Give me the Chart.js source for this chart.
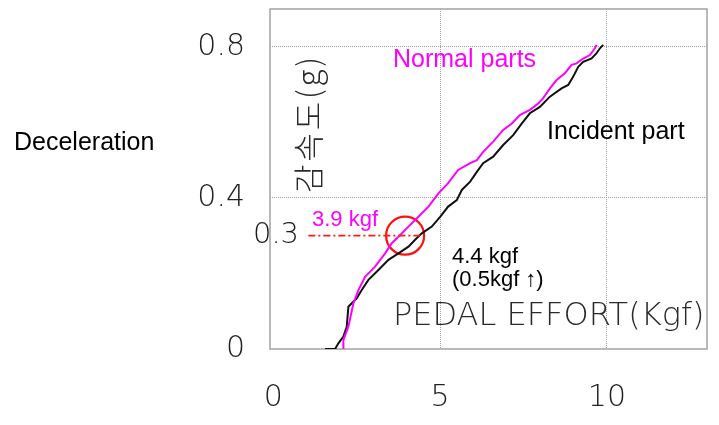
<!DOCTYPE html>
<html>
<head>
<meta charset="utf-8">
<script src="https://cdn.jsdelivr.net/npm/chart.js@4/dist/chart.umd.min.js"></script>
<style>
  html, body { margin: 0; padding: 0; background: #fff; }
  #wrap { width: 719px; height: 425px; }
</style>
</head>
<body>
<div id="wrap"><canvas id="c" width="719" height="425"></canvas></div>
<script>
// Axis ticks
const xTicks = [0, 5, 10];
const yTicks = [0, 0.4, 0.8];

// Pedal effort (kgf) vs deceleration (g) — normal parts
const normalX = [2.10, 2.10, 2.25, 2.40, 2.55, 2.75, 3.05, 3.35, 3.55, 3.75, 4.05, 4.35, 4.65, 4.95, 5.24, 5.54, 5.90, 6.10, 6.29, 6.59, 6.89, 7.15, 7.39, 7.69, 7.94, 8.09, 8.29, 8.49, 8.74, 8.94, 9.09, 9.29, 9.49, 9.64, 9.69];
const normalY = [0.0, 0.024, 0.059, 0.121, 0.156, 0.191, 0.218, 0.253, 0.280, 0.297, 0.324, 0.350, 0.377, 0.412, 0.439, 0.474, 0.492, 0.500, 0.522, 0.549, 0.580, 0.597, 0.619, 0.633, 0.650, 0.664, 0.690, 0.712, 0.730, 0.752, 0.756, 0.769, 0.778, 0.796, 0.805];

// Pedal effort (kgf) vs deceleration (g) — incident part
const incidentX = [1.55, 1.85, 1.95, 2.10, 2.20, 2.25, 2.35, 2.50, 2.65, 2.85, 3.15, 3.45, 3.75, 4.05, 4.25, 4.45, 4.75, 5.00, 5.24, 5.50, 5.65, 5.90, 6.10, 6.29, 6.59, 6.89, 7.19, 7.45, 7.69, 7.99, 8.29, 8.64, 8.84, 8.99, 9.14, 9.29, 9.54, 9.69, 9.79, 9.89];
const incidentY = [0.0, 0.0, 0.015, 0.033, 0.059, 0.112, 0.121, 0.134, 0.156, 0.183, 0.209, 0.236, 0.253, 0.271, 0.289, 0.306, 0.324, 0.350, 0.377, 0.394, 0.421, 0.443, 0.469, 0.492, 0.509, 0.540, 0.566, 0.597, 0.624, 0.641, 0.668, 0.690, 0.699, 0.721, 0.747, 0.760, 0.769, 0.783, 0.796, 0.805];

// Reference deceleration and the pedal efforts reached there
const refLevel = 0.3;
const normalAt = 3.9;
const incidentAt = 4.4;
const guideStart = 1.05;
const markerAt = 3.95;

const toPoints = (xs, ys) => xs.map((x, i) => ({ x, y: ys[i] }));

const fmt = v => (v === 0 ? '0' : String(v));

// Frame round the plotting area
const framePlugin = {
  id: 'frame',
  beforeDatasetsDraw(chart) {
    const { ctx, chartArea: a } = chart;
    ctx.save();
    ctx.strokeStyle = '#a3a3a3';
    ctx.lineWidth = 1.5;
    ctx.strokeRect(a.left, a.top, a.right - a.left, a.bottom - a.top);
    ctx.restore();
  }
};

// Titles and notes
const notesPlugin = {
  id: 'notes',
  afterDraw(chart) {
    const { ctx } = chart;
    const ys = chart.scales.y;
    const yRef = ys.getPixelForValue(refLevel);
    ctx.save();
    ctx.textBaseline = 'middle';

    ctx.fillStyle = '#000';
    ctx.font = '25px "Liberation Sans", Arial, sans-serif';
    ctx.textAlign = 'left';
    ctx.fillText('Deceleration', 14, 143);
    ctx.fillText('Incident part', 547, 132);

    ctx.fillStyle = '#ff00ff';
    ctx.fillText('Normal parts', 393, 60);

    ctx.font = '22px "Liberation Sans", Arial, sans-serif';
    ctx.fillText(normalAt + ' kgf', 312, yRef - 16);

    ctx.fillStyle = '#000';
    ctx.fillText(incidentAt + ' kgf', 452, 257);
    ctx.fillText('(0.5kgf \u2191)', 452, 280);

    ctx.fillStyle = '#1a1a1a';
    ctx.font = '200 29px "DejaVu Sans", sans-serif';
    ctx.textAlign = 'center';
    ctx.fillText(String(refLevel), 276, yRef);

    ctx.fillStyle = '#2a2a2a';
    ctx.font = '200 32px "DejaVu Sans", sans-serif';
    ctx.textAlign = 'left';
    ctx.fillText('PEDAL EFFORT(Kgf)', 393, 317);

    // vertical axis caption, spread to its full length
    const cap = '감속도(g)';
    ctx.font = '300 31px "Noto Sans CJK KR", sans-serif';
    const w = ctx.measureText(cap).width;
    const n = [...cap].length;
    ctx.letterSpacing = Math.max(0, (136 - w) / (n - 1)) + 'px';
    ctx.translate(308, 193);
    ctx.rotate(-Math.PI / 2);
    ctx.textAlign = 'left';
    ctx.fillText(cap, 0, 0);
    ctx.restore();
  }
};

const tickFont = { family: '"DejaVu Sans", sans-serif', size: 30, weight: '200' };

const noPad = s => { s.paddingTop = 0; s.paddingBottom = 0; s.paddingLeft = 0; s.paddingRight = 0; };

new Chart(document.getElementById('c'), {
  type: 'line',
  data: {
    datasets: [
      {
        data: [{ x: guideStart, y: refLevel }, { x: incidentAt, y: refLevel }],
        borderColor: '#ff1a1a',
        borderWidth: 1.6,
        borderDash: [7, 3, 2, 3],
        pointRadius: 0
      },
      {
        data: toPoints(normalX, normalY),
        borderColor: '#ff00ff',
        borderWidth: 2,
        pointRadius: 0
      },
      {
        data: toPoints(incidentX, incidentY),
        borderColor: '#111',
        borderWidth: 2,
        pointRadius: 0
      },
      {
        data: [{ x: markerAt, y: refLevel }],
        showLine: false,
        pointRadius: 19,
        pointBorderWidth: 2.2,
        pointBorderColor: '#ff1010',
        pointBackgroundColor: 'rgba(0,0,0,0)'
      }
    ]
  },
  options: {
    responsive: false,
    animation: false,
    devicePixelRatio: 1,
    layout: { autoPadding: false, padding: { top: 9, right: 12, left: 0, bottom: 0 } },
    plugins: { legend: { display: false }, tooltip: { enabled: false } },
    elements: { line: { tension: 0 } },
    scales: {
      x: {
        type: 'linear',
        min: -0.1,
        max: 13,
        afterBuildTicks: s => { s.ticks = xTicks.map(v => ({ value: v })); },
        afterFit: s => { s.height = 76; noPad(s); },
        ticks: { font: tickFont, color: '#222', padding: 31, callback: fmt, maxRotation: 0, autoSkip: false },
        grid: {
          drawTicks: false,
          color: c => (c.tick && c.tick.value === 0 ? 'rgba(0,0,0,0)' : '#a0a0a0'),
          lineWidth: 1
        },
        border: { display: false, dash: [1, 1] }
      },
      y: {
        type: 'linear',
        min: 0,
        max: 0.9,
        afterBuildTicks: s => { s.ticks = yTicks.map(v => ({ value: v })); },
        afterFit: s => { s.width = 270; noPad(s); },
        ticks: { font: tickFont, color: '#222', padding: 25, callback: fmt, autoSkip: false },
        grid: {
          drawTicks: false,
          color: c => (c.tick && c.tick.value === 0 ? 'rgba(0,0,0,0)' : '#a0a0a0'),
          lineWidth: 1
        },
        border: { display: false, dash: [1, 1] }
      }
    }
  },
  plugins: [framePlugin, notesPlugin]
});
</script>
</body>
</html>
